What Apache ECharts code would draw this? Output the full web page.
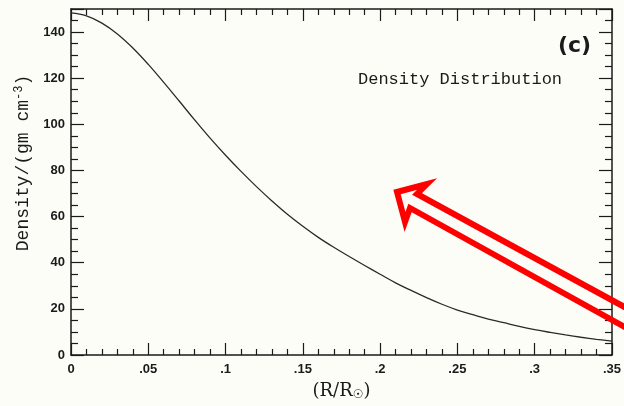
<!DOCTYPE html>
<html>
<head>
<meta charset="utf-8">
<script src="https://cdn.jsdelivr.net/npm/echarts@6/dist/echarts.min.js"></script>
<style>
  html, body { margin: 0; padding: 0; background: #fdfdf8; }
  #chart { width: 624px; height: 406px; }
</style>
</head>
<body>
<div id="chart"></div>
<script>
// Radius in units of the solar radius
const radius = [0, 0.01, 0.02, 0.03, 0.04, 0.05, 0.06, 0.07, 0.08, 0.09, 0.10,
  0.11, 0.12, 0.13, 0.14, 0.15, 0.16, 0.17, 0.18, 0.19, 0.20,
  0.21, 0.22, 0.23, 0.24, 0.25, 0.26, 0.27, 0.28, 0.29, 0.30,
  0.31, 0.32, 0.33, 0.34, 0.35];
// Density in gm cm^-3
const density = [148.3, 147.0, 143.9, 139.2, 133.1, 126.0, 118.2, 110.1, 101.9, 94.0, 86.6,
  79.6, 73.0, 66.8, 61.0, 55.8, 51.0, 46.7, 42.7, 38.8, 35.0,
  31.3, 28.0, 24.9, 22.0, 19.5, 17.5, 15.6, 14.0, 12.4, 11.0,
  9.8, 8.7, 7.7, 6.8, 6.0];

const xTicks = { min: 0, max: 0.35, interval: 0.05 };
const yTicks = { min: 0, max: 150, interval: 20 };

const panelTag = '(c)';
const panelTitle = 'Density Distribution';

const ink = '#1a1a1a';
const tickLabelStyle = { color: ink, fontFamily: 'Liberation Sans', fontWeight: 'bold', fontSize: 13 };

function xLabel(v) {
  if (v === 0) return '0';
  return String(Number(v.toFixed(2))).replace(/^0\./, '.');
}

const axisLine = { show: true, onZero: false, lineStyle: { color: ink, width: 1.5 } };
const xMajor = { show: true, inside: true, length: 12, lineStyle: { color: ink, width: 1.2 } };
const xMinor = { show: true, splitNumber: 5, length: 6, lineStyle: { color: ink, width: 1.2 } };
const yMajor = { show: true, inside: true, length: 13, lineStyle: { color: ink, width: 1.2 } };
const yMinor = { show: true, splitNumber: 4, length: 7, lineStyle: { color: ink, width: 1.2 } };

const chart = echarts.init(document.getElementById('chart'), null, { renderer: 'canvas' });
chart.setOption({
  backgroundColor: '#fdfdf8',
  animation: false,
  grid: { left: 71, right: 11, top: 9, bottom: 48, containLabel: false },
  xAxis: [
    {
      type: 'value', position: 'bottom',
      min: xTicks.min, max: xTicks.max, interval: xTicks.interval,
      axisLine: axisLine, axisTick: xMajor, minorTick: xMinor,
      splitLine: { show: false },
      axisLabel: Object.assign({ margin: 8, formatter: xLabel }, tickLabelStyle),
      name: '(R/R{sub|☉})',
      nameLocation: 'middle',
      nameGap: 26,
      nameTextStyle: {
        color: ink, fontFamily: 'DejaVu Serif', fontSize: 18,
        rich: { sub: { fontFamily: 'DejaVu Sans', fontSize: 12, verticalAlign: 'bottom', padding: [8, 0, 0, 0], color: ink } }
      }
    },
    {
      type: 'value', position: 'top',
      min: xTicks.min, max: xTicks.max, interval: xTicks.interval,
      axisLine: axisLine, axisTick: xMajor, minorTick: xMinor,
      splitLine: { show: false },
      axisLabel: { show: false }
    }
  ],
  yAxis: [
    {
      type: 'value', position: 'left',
      min: yTicks.min, max: yTicks.max, interval: yTicks.interval,
      axisLine: axisLine, axisTick: yMajor, minorTick: yMinor,
      splitLine: { show: false },
      axisLabel: Object.assign({ margin: 6, showMaxLabel: false }, tickLabelStyle),
      name: 'Density/(gm cm{sup|-3})',
      nameLocation: 'middle',
      nameGap: 38,
      nameRotate: 90,
      nameTextStyle: {
        color: ink, fontFamily: 'Liberation Mono', fontSize: 18,
        padding: [0, 0, 0, 38],
        rich: { sup: { fontFamily: 'Liberation Mono', fontSize: 12, verticalAlign: 'top', padding: [0, 0, 8, 0], color: ink } }
      }
    },
    {
      type: 'value', position: 'right',
      min: yTicks.min, max: yTicks.max, interval: yTicks.interval,
      axisLine: axisLine, axisTick: yMajor, minorTick: yMinor,
      splitLine: { show: false },
      axisLabel: { show: false }
    }
  ],
  series: [
    {
      type: 'line',
      xAxisIndex: 0, yAxisIndex: 0,
      smooth: 0.4,
      showSymbol: false,
      symbol: 'none',
      lineStyle: { color: '#2a2a2a', width: 1.3 },
      data: radius.map((r, i) => [r, density[i]])
    }
  ],
  graphic: [
    {
      type: 'text', left: 558, top: 35,
      style: { text: panelTag, fill: ink, font: 'bold 22px "DejaVu Sans"' }
    },
    {
      type: 'text', left: 358, top: 71,
      style: { text: panelTitle, fill: ink, font: '17px "Liberation Mono"' }
    },
    {
      // hollow red pointer arrow
      type: 'polyline',
      z: 100,
      shape: {
        points: [[630, 310], [417, 194], [427, 184], [397, 192], [405, 222], [410, 208], [630, 330]]
      },
      style: { stroke: '#ff0000', lineWidth: 6, fill: null, lineJoin: 'miter' }
    }
  ]
});
</script>
</body>
</html>
